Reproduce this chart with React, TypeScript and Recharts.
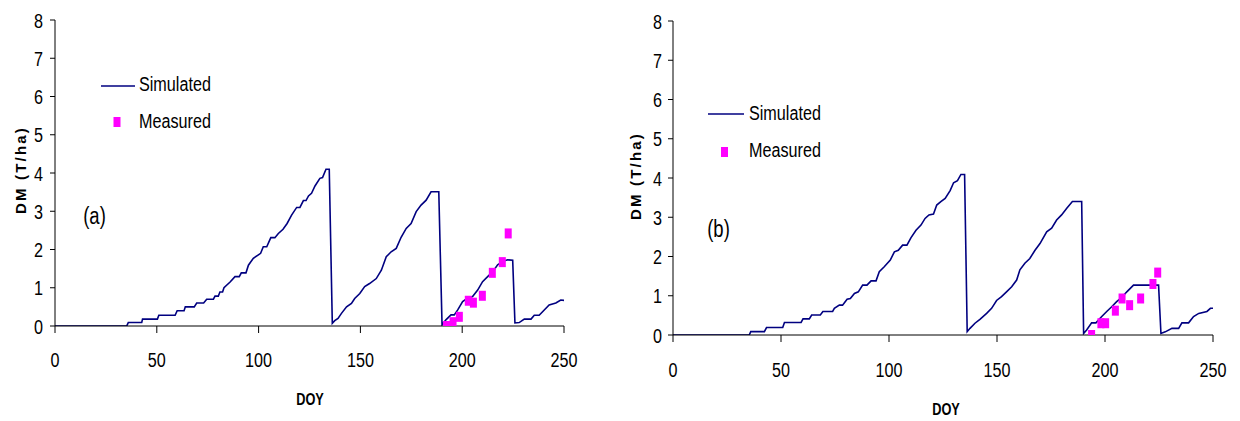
import React from "react";
import { ComposedChart, Line, Scatter, XAxis, YAxis } from "recharts";

// ---- Panel (a) ----
const simA_doy = [0, 35.2, 36, 42.6, 43, 50.3, 51, 59, 60, 63.4, 64, 68.4, 69.6, 73, 74.5, 77.8, 78.6, 80.2, 81, 82.3, 83, 86, 88.4, 90.5, 91.5, 93.8, 95, 97.4, 99.9, 101, 102.3, 104, 106, 108, 109.7, 112, 114, 116.2, 118.7, 120.3, 122, 123.3, 124.5, 126, 127.7, 130.1, 131.4, 133.1, 134.7, 136.2, 137.4, 139, 140.7, 143.2, 145.6, 147.2, 149.7, 152.1, 154.5, 157.8, 160.3, 162.7, 165.1, 167.6, 170, 172.5, 174.9, 177.4, 179.8, 182.3, 184.7, 188.5, 190.1, 192, 194.5, 196.1, 197.8, 200.2, 202.7, 205.1, 207.6, 210, 212.5, 215, 217.4, 219.9, 222.3, 224.8, 225.9, 228, 230.5, 233.8, 235.4, 237.8, 240.3, 242.7, 246, 248.4, 250];
const simA_dm = [0, 0, 0.09, 0.09, 0.18, 0.18, 0.28, 0.28, 0.4, 0.4, 0.5, 0.5, 0.6, 0.6, 0.7, 0.7, 0.78, 0.78, 0.89, 0.89, 1.0, 1.15, 1.29, 1.29, 1.39, 1.39, 1.59, 1.77, 1.86, 1.9, 2.07, 2.07, 2.31, 2.31, 2.42, 2.53, 2.68, 2.9, 3.1, 3.1, 3.28, 3.28, 3.4, 3.47, 3.66, 3.86, 3.88, 4.1, 4.1, 0.07, 0.14, 0.2, 0.33, 0.5, 0.59, 0.72, 0.85, 1.03, 1.11, 1.24, 1.46, 1.81, 1.94, 2.03, 2.32, 2.55, 2.68, 2.99, 3.16, 3.29, 3.51, 3.51, 0.03, 0.16, 0.29, 0.29, 0.42, 0.64, 0.73, 0.77, 0.94, 1.16, 1.29, 1.42, 1.6, 1.69, 1.73, 1.72, 0.08, 0.09, 0.18, 0.18, 0.28, 0.28, 0.42, 0.55, 0.6, 0.68, 0.67];
const measA_doy = [192.3, 195.5, 198.6, 203, 205.5, 209.9, 214.8, 219.7, 222.6];
const measA_dm = [0.0, 0.1, 0.24, 0.66, 0.61, 0.79, 1.39, 1.67, 2.42];

// ---- Panel (b) ----
const simB_doy = [0, 35.3, 36, 42.3, 43.3, 50.8, 51.6, 59.3, 60.2, 63.1, 64.2, 68.2, 69.4, 73.9, 74.7, 77, 78.5, 80.6, 82.1, 84, 85.8, 87.8, 89.8, 91.7, 94, 95.5, 97.8, 100.6, 102.5, 104.3, 106.3, 108.3, 110.2, 112.5, 114.8, 116.7, 118.5, 120.6, 122.1, 124, 126, 128.3, 129.9, 131.7, 133.3, 135, 136.2, 137.5, 139.8, 142.1, 145.2, 147.5, 149.8, 152.1, 154.4, 156.8, 159.1, 160.6, 162.9, 165.2, 167.6, 169.9, 173, 175.3, 177.6, 179.9, 182.3, 184.9, 189.2, 190.1, 191.5, 193.8, 195.8, 198.5, 200.8, 203.1, 205.4, 207.8, 210.1, 213.2, 224.8, 225.9, 227.9, 231, 234.1, 235.6, 238.7, 241, 243.4, 247.2, 248.8, 250];
const simB_dm = [0, 0, 0.085, 0.085, 0.19, 0.19, 0.32, 0.32, 0.41, 0.41, 0.51, 0.51, 0.6, 0.6, 0.68, 0.76, 0.76, 0.91, 0.93, 1.06, 1.1, 1.27, 1.27, 1.38, 1.38, 1.61, 1.74, 1.91, 2.12, 2.16, 2.29, 2.29, 2.48, 2.67, 2.8, 2.97, 3.06, 3.08, 3.31, 3.4, 3.48, 3.68, 3.88, 3.93, 4.09, 4.09, 0.085, 0.17, 0.3, 0.4, 0.55, 0.68, 0.88, 0.98, 1.1, 1.23, 1.4, 1.66, 1.83, 1.95, 2.16, 2.33, 2.63, 2.72, 2.93, 3.06, 3.23, 3.4, 3.4, 0.04, 0.13, 0.31, 0.31, 0.47, 0.6, 0.72, 0.85, 0.96, 1.1, 1.27, 1.27, 0.04, 0.08, 0.17, 0.17, 0.31, 0.31, 0.47, 0.55, 0.6, 0.68, 0.68];
const measB_doy = [193.8, 198.1, 200.3, 204.8, 207.9, 211.4, 216.5, 222.2, 224.4];
const measB_dm = [0.0, 0.3, 0.3, 0.62, 0.93, 0.76, 0.93, 1.3, 1.59];

const xTicks = [0, 50, 100, 150, 200, 250];
const yTicks = [0, 1, 2, 3, 4, 5, 6, 7, 8];
const seriesNames = ["Simulated", "Measured"];
const panelLabels = ["(a)", "(b)"];
const xTitle = "DOY";
const yTitle = "DM (T/ha)";

const toPts = (xs: number[], ys: number[]) => xs.map((x, i) => ({ x, y: ys[i] }));

const FONT = "'Liberation Sans', Arial, sans-serif";
const LINE = "#000080";
const MAG = "#FF00FF";

const XTick = (props: any) => {
  const { x, y, payload } = props;
  return (
    <text transform={`translate(${x},${y}) scale(0.77,1)`} textAnchor="middle" dy="0.71em" fontSize={21} fontFamily={FONT} fill="#000">
      {payload.value}
    </text>
  );
};
const YTick = (props: any) => {
  const { x, y, payload } = props;
  return (
    <text transform={`translate(${x},${y}) scale(0.77,1)`} textAnchor="end" dy="0.36em" fontSize={21} fontFamily={FONT} fill="#000">
      {payload.value}
    </text>
  );
};
const Square = (props: any) => (
  <rect x={props.cx - 3.5} y={props.cy - 5} width={7} height={10} fill={MAG} />
);

function Panel(p: {
  sim: { x: number; y: number }[];
  meas: { x: number; y: number }[];
  width: number;
  margin: any;
  xTickMargin: number;
  yTickMargin: number;
}) {
  return (
    <ComposedChart width={p.width} height={421} margin={p.margin}>
      <XAxis type="number" dataKey="x" domain={[0, 250]} ticks={xTicks} tick={<XTick />} tickSize={7} tickMargin={p.xTickMargin} height={60} axisLine={{ stroke: "#000" }} tickLine={{ stroke: "#000" }} allowDataOverflow />
      <YAxis type="number" dataKey="y" domain={[0, 8]} ticks={yTicks} tick={<YTick />} tickSize={5} tickMargin={p.yTickMargin} width={40} axisLine={{ stroke: "#000" }} tickLine={{ stroke: "#000" }} allowDataOverflow />
      <Line data={p.sim} dataKey="y" type="linear" stroke={LINE} strokeWidth={1.6} dot={false} activeDot={false} isAnimationActive={false} />
      <Scatter data={p.meas} dataKey="y" shape={<Square />} isAnimationActive={false} />
    </ComposedChart>
  );
}

const T = (p: any) => (
  <text fontFamily={FONT} fill="#000" {...p} />
);

export default function App() {
  return (
    <div style={{ position: "absolute", left: 0, top: 0, width: 1240, height: 421, background: "#fff" }}>
      <div style={{ position: "absolute", left: 0, top: 0 }}>
        <Panel sim={toPts(simA_doy, simA_dm)} meas={toPts(measA_doy, measA_dm)} width={600} margin={{ top: 20, right: 36, left: 15, bottom: 35 }} xTickMargin={19} yTickMargin={7} />
      </div>
      <div style={{ position: "absolute", left: 620, top: 0 }}>
        <Panel sim={toPts(simB_doy, simB_dm)} meas={toPts(measB_doy, measB_dm)} width={620} margin={{ top: 21, right: 27, left: 13, bottom: 26 }} xTickMargin={20} yTickMargin={6} />
      </div>
      <svg width={1240} height={421} style={{ position: "absolute", left: 0, top: 0, pointerEvents: "none" }}>
        {/* Panel (a) annotations */}
        <line x1={101} y1={86} x2={135} y2={86} stroke={LINE} strokeWidth={1.6} />
        <T transform="translate(139,90.5) scale(0.77,1)" fontSize={21}>{seriesNames[0]}</T>
        <rect x={113.5} y={117} width={7} height={10} fill={MAG} />
        <T transform="translate(139,127.5) scale(0.77,1)" fontSize={21}>{seriesNames[1]}</T>
        <T transform="translate(94.5,224) scale(0.77,1)" fontSize={24} textAnchor="middle">{panelLabels[0]}</T>
        <T transform="translate(310,405) scale(0.75,1)" fontSize={17} fontWeight="bold" textAnchor="middle">{xTitle}</T>
        <T transform="translate(26,170) rotate(-90)" fontSize={15} fontWeight="bold" letterSpacing={2.2} textAnchor="middle">{yTitle}</T>

        {/* Panel (b) annotations */}
        <line x1={708} y1={114} x2={744} y2={114} stroke={LINE} strokeWidth={1.6} />
        <T transform="translate(749,119.5) scale(0.77,1)" fontSize={21}>{seriesNames[0]}</T>
        <rect x={721} y={147} width={7} height={10} fill={MAG} />
        <T transform="translate(749,157.3) scale(0.77,1)" fontSize={21}>{seriesNames[1]}</T>
        <T transform="translate(718.5,237) scale(0.77,1)" fontSize={24} textAnchor="middle">{panelLabels[1]}</T>
        <T transform="translate(946,415) scale(0.75,1)" fontSize={17} fontWeight="bold" textAnchor="middle">{xTitle}</T>
        <T transform="translate(641,176) rotate(-90)" fontSize={15} fontWeight="bold" letterSpacing={2.2} textAnchor="middle">{yTitle}</T>
      </svg>
    </div>
  );
}
